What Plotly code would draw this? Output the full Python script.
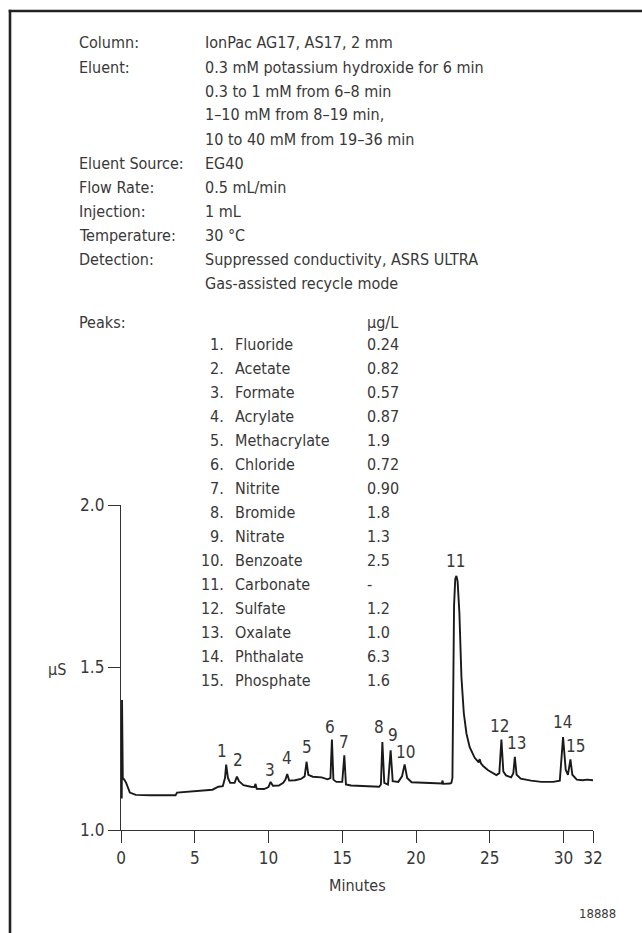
import plotly.graph_objects as go

# ---------------- data ----------------
header_labels = ["Column:", "Eluent:", "", "", "", "Eluent Source:", "Flow Rate:",
                 "Injection:", "Temperature:", "Detection:", ""]
header_values = ["IonPac AG17, AS17, 2 mm",
                 "0.3 mM potassium hydroxide for 6 min",
                 "0.3 to 1 mM from 6–8 min",
                 "1–10 mM from 8–19 min,",
                 "10 to 40 mM from 19–36 min",
                 "EG40", "0.5 mL/min", "1 mL", "30 °C",
                 "Suppressed conductivity, ASRS ULTRA",
                 "Gas-assisted recycle mode"]

peak_numbers = ["1.", "2.", "3.", "4.", "5.", "6.", "7.", "8.", "9.", "10.",
                "11.", "12.", "13.", "14.", "15."]
peak_names = ["Fluoride", "Acetate", "Formate", "Acrylate", "Methacrylate",
              "Chloride", "Nitrite", "Bromide", "Nitrate", "Benzoate",
              "Carbonate", "Sulfate", "Oxalate", "Phthalate", "Phosphate"]
peak_conc = ["0.24", "0.82", "0.57", "0.87", "1.9", "0.72", "0.90", "1.8",
             "1.3", "2.5", "-", "1.2", "1.0", "6.3", "1.6"]

peak_labels = ["1", "2", "3", "4", "5", "6", "7", "8", "9", "10",
               "11", "12", "13", "14", "15"]
peak_times = [7.13, 7.86, 10.14, 11.27, 12.58, 14.30, 15.14, 17.72, 18.28,
              19.23, 22.74, 25.79, 26.70, 29.97, 30.47]
peak_heights = [1.201, 1.164, 1.148, 1.172, 1.210, 1.278, 1.230, 1.271, 1.245,
                1.202, 1.782, 1.278, 1.225, 1.286, 1.217]

time_min = [0.00, 0.05, 0.07, 0.12, 0.22, 0.35, 0.60, 1.0, 2.0, 3.0, 3.70,
            3.80, 4.5, 5.5, 6.2, 6.6, 6.9, 7.05, 7.13, 7.25, 7.4, 7.7, 7.86,
            8.0, 8.3, 8.8, 9.05, 9.12, 9.2, 9.7, 10.0, 10.14, 10.3, 10.7, 11.0,
            11.15, 11.27, 11.4, 11.8, 12.2, 12.45, 12.58, 12.7, 13.0, 13.6,
            14.0, 14.2, 14.30, 14.4, 14.6, 15.0, 15.14, 15.25, 15.6, 16.5,
            17.5, 17.62, 17.72, 17.85, 18.1, 18.28, 18.42, 18.8, 19.05, 19.23,
            19.4, 19.7, 20.5, 21.5, 21.75, 21.8, 21.85, 22.3, 22.40, 22.47,
            22.52, 22.58, 22.66, 22.74, 22.82, 22.94, 23.08, 23.24, 23.42,
            23.64, 23.98, 24.25, 24.32, 24.40, 24.55, 24.89, 25.45, 25.65,
            25.79, 25.92, 26.1, 26.45, 26.6, 26.70, 26.82, 27.1, 27.8, 28.5,
            29.3, 29.75, 29.97, 30.15, 30.3, 30.47, 30.6, 30.9, 31.3, 31.6,
            32.0]
signal_uS = [1.100, 1.100, 1.400, 1.160, 1.155, 1.145, 1.115, 1.108, 1.107,
             1.107, 1.107, 1.115, 1.117, 1.120, 1.124, 1.133, 1.135, 1.160,
             1.201, 1.160, 1.145, 1.145, 1.164, 1.150, 1.138, 1.133, 1.132,
             1.142, 1.127, 1.126, 1.132, 1.148, 1.136, 1.137, 1.145, 1.155,
             1.172, 1.152, 1.153, 1.157, 1.165, 1.210, 1.170, 1.164, 1.162,
             1.156, 1.160, 1.278, 1.155, 1.148, 1.148, 1.230, 1.140, 1.137,
             1.135, 1.133, 1.140, 1.271, 1.145, 1.140, 1.245, 1.150, 1.148,
             1.165, 1.202, 1.160, 1.147, 1.145, 1.143, 1.143, 1.152, 1.142,
             1.143, 1.145, 1.160, 1.450, 1.690, 1.772, 1.782, 1.765, 1.670,
             1.470, 1.360, 1.297, 1.255, 1.222, 1.208, 1.218, 1.205, 1.197,
             1.184, 1.169, 1.175, 1.278, 1.180, 1.168, 1.162, 1.175, 1.225,
             1.170, 1.158, 1.152, 1.148, 1.148, 1.152, 1.286, 1.185, 1.170,
             1.217, 1.170, 1.155, 1.153, 1.155, 1.153]

x_tickvals = [0, 5, 10, 15, 20, 25, 30, 32]
x_ticktext = ["0", "5", "10", "15", "20", "25", "30", "32"]
y_tickvals = [1.0, 1.5, 2.0]
y_ticktext = ["1.0", "1.5", "2.0"]

# ---------------- layout geometry (pixels) ----------------
FIG_W, FIG_H = 642, 933
L, R, T, B = 121, 49, 505, 103
PW = FIG_W - L - R
PH = FIG_H - T - B
FONT = "DejaVu Sans Condensed, Liberation Sans Narrow, Arial Narrow, sans-serif"
TXT = "#383838"
FS = 16


def pxx(px):
    return (px - L) / PW


def pxy(py):
    return (T + PH - py) / PH


fig = go.Figure()
fig.add_trace(go.Scatter(x=time_min, y=signal_uS, mode="lines",
                         line=dict(color="#1a1a1a", width=1.9),
                         hoverinfo="skip", showlegend=False))

ann = []


def text(px, py, s, size=FS, anchor="left"):
    ann.append(dict(xref="paper", yref="paper", x=pxx(px), y=pxy(py), text=s,
                    showarrow=False, xanchor=anchor, yanchor="middle",
                    font=dict(family=FONT, size=size, color=TXT)))


# header block
for i, (lab, val) in enumerate(zip(header_labels, header_values)):
    y = 43 + 24 * i
    if lab:
        text(77, y, lab)
    text(203, y, val)

# peaks table
text(77, 322, "Peaks:")
text(365, 322, "µg/L")
for i, (n, nm, c) in enumerate(zip(peak_numbers, peak_names, peak_conc)):
    y = 344 + 24 * i
    text(226, y, n, anchor="right")
    text(233, y, nm)
    text(365, y, c)

# axis titles and code number
text(57, 669, "µS", anchor="center")
text(357, 885, "Minutes", anchor="center")
text(597, 913, "18888", size=13, anchor="center")

# peak labels
label_dx = [-4, 1, -1, 0, 0, -2, 0, -3, 2, 1, -1, -2, 2, -1, 5]
label_dy = [14, 17, 12, 16, 15, 13, 13, 15, 15, 12, 15, 14, 14, 15, 13]
for lab, t, h, dx, dy in zip(peak_labels, peak_times, peak_heights, label_dx, label_dy):
    ann.append(dict(x=t, y=h, xref="x", yref="y", text=lab, showarrow=False,
                    xanchor="center", yanchor="middle", xshift=dx, yshift=dy,
                    font=dict(family=FONT, size=17, color=TXT)))

# outer frame (left and top edges visible)
shapes = [
    dict(type="line", xref="paper", yref="paper", x0=pxx(10), x1=pxx(10),
         y0=pxy(9.8), y1=pxy(FIG_H + 5), line=dict(color="#222222", width=2.6)),
    dict(type="line", xref="paper", yref="paper", x0=pxx(8.7), x1=pxx(FIG_W + 5),
         y0=pxy(11), y1=pxy(11), line=dict(color="#222222", width=2.6)),
]

axis_common = dict(showgrid=False, zeroline=False, showline=True,
                   linecolor="#333333", linewidth=1.4, ticks="outside",
                   ticklen=12, tickwidth=1.4, tickcolor="#333333",
                   tickfont=dict(family=FONT, size=17, color=TXT))

fig.update_layout(
    width=FIG_W, height=FIG_H,
    margin=dict(l=L, r=R, t=T, b=B, autoexpand=False),
    paper_bgcolor="white", plot_bgcolor="white",
    xaxis=dict(range=[0, 32], tickvals=x_tickvals, ticktext=x_ticktext,
               **axis_common),
    yaxis=dict(range=[1.0, 2.0], tickvals=y_tickvals, ticktext=y_ticktext,
               **axis_common),
    annotations=ann, shapes=shapes, showlegend=False,
)

fig.write_html("out.html")
